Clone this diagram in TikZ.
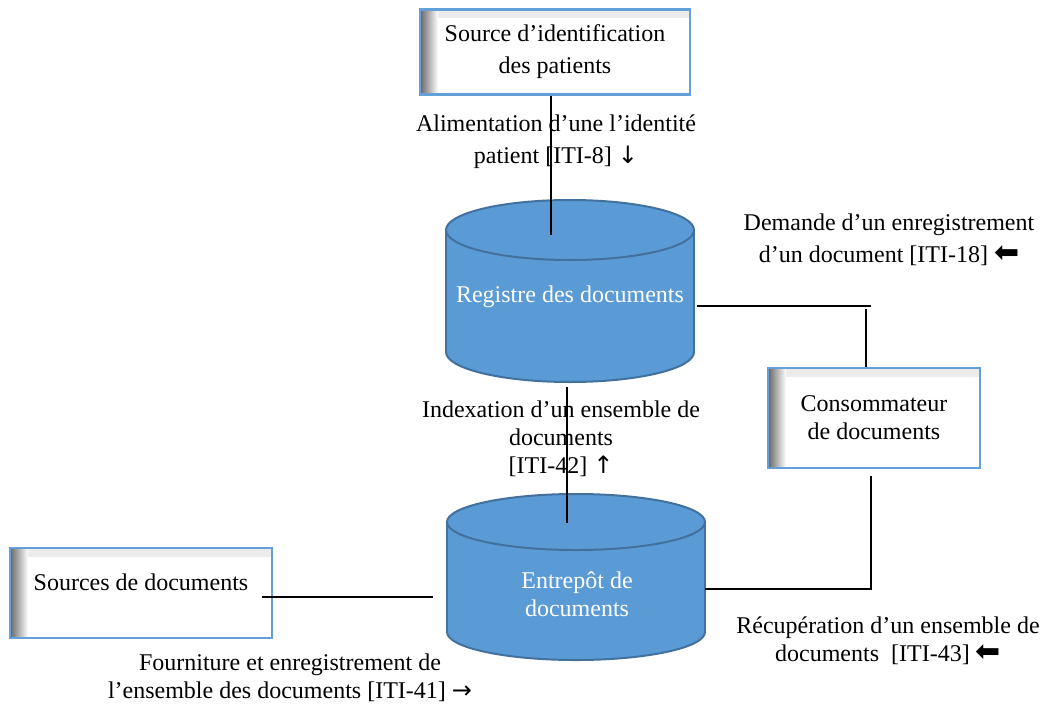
\documentclass[tikz,border=0pt]{standalone}
\usepackage{fontspec}
\setmainfont{Liberation Serif}
\newfontfamily\arrowfont{DejaVu Sans}
\usetikzlibrary{positioning}
\definecolor{cylblue}{RGB}{91,155,213}
\definecolor{cyledge}{RGB}{65,113,156}
\definecolor{boxedge}{RGB}{100,160,215}
\newcommand{\fatarrow}{{\arrowfont\fontsize{30}{30}\selectfont ⬅}}
\newcommand{\thinarrow}[1]{{\arrowfont #1}}
\tikzset{
    actor/.style={draw=boxedge, line width=2.5pt, fill=white, inner sep=0pt,
        path picture={
            \shade[top color=black!8, bottom color=white] (path picture bounding box.north west) rectangle ([yshift=-8pt]path picture bounding box.north east);
            \shade[left color=black!60, right color=white] (path picture bounding box.north west) rectangle ([xshift=18pt]path picture bounding box.south west);
        }},
    link/.style={draw=black, line width=1.3pt},
    lbl/.style={font=\fontsize{24}{28}\selectfont, align=center, inner sep=0pt},
    lblwide/.style={font=\fontsize{24}{32}\selectfont, align=center, inner sep=0pt},
    cylline/.style={draw=cyledge, line width=2pt},
    cyltext/.style={lbl, text=white}
}
\begin{document}
\begin{tikzpicture}[x=1pt, y=-1pt]
    \useasboundingbox (0,0) rectangle (1049,704);

    % Registre des documents
    \filldraw[fill=cylblue, cylline] (570,352) ellipse (124 and 30);
    \fill[cylblue] (446,230) rectangle (694,352);
    \draw[cylline] (446,230) -- (446,352);
    \draw[cylline] (694,230) -- (694,352);
    \filldraw[fill=cylblue, cylline] (570,230) ellipse (124 and 30);
    \node[cyltext] (reg) at (570,297) {Registre des documents};

    % Entrepot de documents
    \filldraw[fill=cylblue, cylline] (576,632) ellipse (129 and 28);
    \fill[cylblue] (447,522) rectangle (705,632);
    \draw[cylline] (447,522) -- (447,632);
    \draw[cylline] (705,522) -- (705,632);
    \filldraw[fill=cylblue, cylline] (576,522) ellipse (129 and 28);
    \node[cyltext] (ent) at (577,594) {Entrepôt de\\documents};

    % acteurs
    \node[actor, lblwide, minimum width=270pt, minimum height=85pt] (src) at (555,52) {Source d’identification\\des patients};
    \node[actor, lbl, minimum width=212pt, minimum height=100pt] (cons) at (874,418) {Consommateur\\de documents};
    \node[actor, minimum width=262pt, minimum height=90pt] (docsrc) at (141,593) {};
    \node[lbl] (docsrctxt) at (141,582) {Sources de documents};

    % points d'attache
    \coordinate (regtop) at (551,235);
    \coordinate (regE) at (697,306);
    \coordinate (bendA) at (871,306);
    \coordinate (consN) at (866,309);
    \coordinate (regB) at (567,387);
    \coordinate (entT) at (567,523);
    \coordinate (entE) at (705,589);
    \coordinate (consS) at (871,476);
    \coordinate (srcL) at (262,597);
    \coordinate (entW) at (433,597);

    \draw[link] (src.south -| regtop) -- (regtop);
    \draw[link] (regE) -- (bendA);
    \draw[link] (consN) -- (consN |- cons.north);
    \draw[link] (regB) -- (entT);
    \draw[link] (entE) -| (consS);
    \draw[link] (srcL) -- (entW);

    % transactions
    \node[lblwide] (alim) at (556,142) {Alimentation d’une l’identité\\patient [ITI-8] \thinarrow{↓}};
    \node[lblwide] (dem) at (889,240) {Demande d’un enregistrement\\d’un document [ITI-18] \fatarrow};
    \node[lbl] (idx) at (561,439) {Indexation d’un ensemble de\\documents\\{}[ITI-42] \thinarrow{↑}};
    \node[lbl] (recup) at (888,641) {Récupération d’un ensemble de\\documents~~[ITI-43] \fatarrow};
    \node[lbl] (fourn) at (290,678) {Fourniture et enregistrement de\\l’ensemble des documents [ITI-41] \thinarrow{→}};
\end{tikzpicture}
\end{document}
